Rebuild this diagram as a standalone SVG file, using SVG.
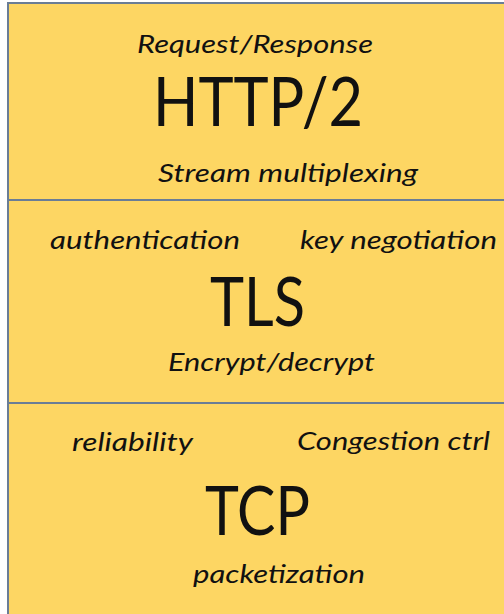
<svg xmlns="http://www.w3.org/2000/svg" width="504" height="614" viewBox="0 0 504 614">
<style>
.layer{fill:#FDD663;stroke:#6A7D96;stroke-width:2}
.t{font-family:Lato,"Noto Sans",sans-serif;fill:#111}
.s{font-size:25px;font-style:italic}
.b{font-size:67px}
</style>
<rect x="0" y="0" width="504" height="614" fill="#ffffff"/>
<g id="http2">
<rect class="layer" x="8" y="3" width="510" height="197"/>
<text class="t s" x="137" y="53" textLength="236" lengthAdjust="spacingAndGlyphs">Request/Response</text>
<text class="t b" x="153" y="126" textLength="210" lengthAdjust="spacingAndGlyphs">HTTP/2</text>
<text class="t s" x="158" y="182" textLength="260" lengthAdjust="spacingAndGlyphs">Stream multiplexing</text>
</g>
<g id="tls">
<rect class="layer" x="8" y="200" width="510" height="203"/>
<text class="t s" x="50" y="249" textLength="190" lengthAdjust="spacingAndGlyphs">authentication</text>
<text class="t s" x="300" y="249" textLength="197" lengthAdjust="spacingAndGlyphs">key negotiation</text>
<text class="t b" x="210" y="326" textLength="95" lengthAdjust="spacingAndGlyphs">TLS</text>
<text class="t s" x="168" y="371" textLength="207" lengthAdjust="spacingAndGlyphs">Encrypt/decrypt</text>
</g>
<g id="tcp">
<rect class="layer" x="8" y="403" width="510" height="220"/>
<text class="t s" x="72" y="451" textLength="121" lengthAdjust="spacingAndGlyphs">reliability</text>
<text class="t s" x="297" y="450" textLength="193" lengthAdjust="spacingAndGlyphs">Congestion ctrl</text>
<text class="t b" x="205" y="535" textLength="105" lengthAdjust="spacingAndGlyphs">TCP</text>
<text class="t s" x="193" y="583" textLength="172" lengthAdjust="spacingAndGlyphs">packetization</text>
</g>
<g id="connectors"/>
</svg>
